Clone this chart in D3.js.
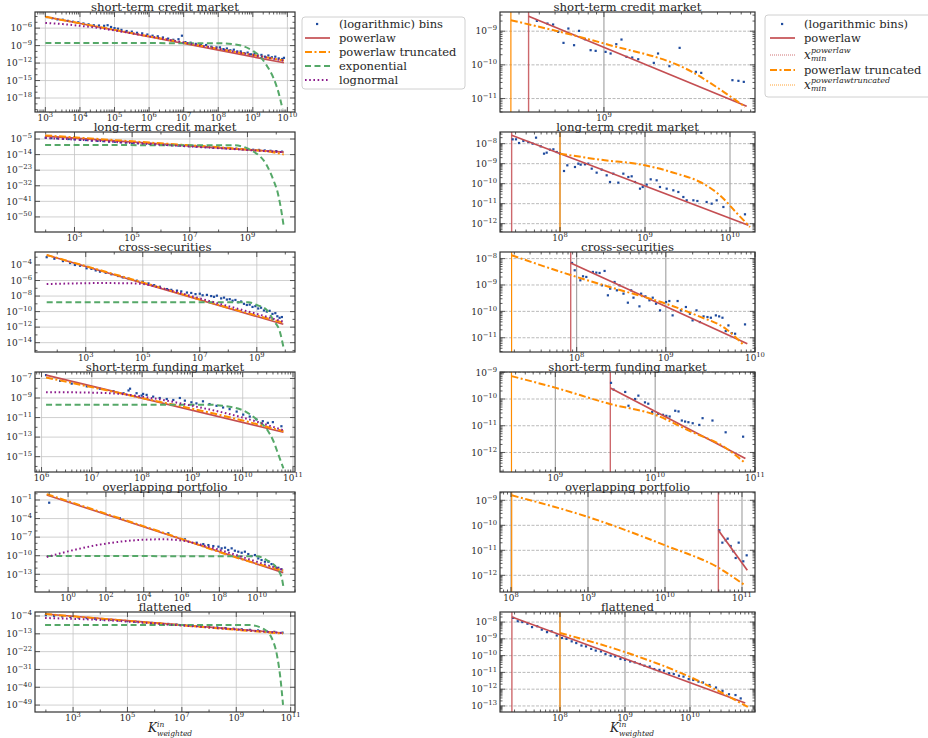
<!DOCTYPE html>
<html><head><meta charset="utf-8">
<script src="https://cdn.jsdelivr.net/npm/d3@7"></script>
<style>body{margin:0;background:#fff} svg text{font-family:"DejaVu Serif",serif;fill:#262626}</style>
</head><body><svg id="c" width="928" height="738"></svg>
<script>
// ---------- DATA (log10 values: [log10 x, log10 y]) ----------
const titles = ["short-term credit market","long-term credit market","cross-securities","short-term funding market","overlapping portfolio","flattened"];

// Left column: full distributions
const stcBins = [[3.05,-4.1],[3.2,-4.3],[3.35,-4.5],[3.5,-4.55],[3.65,-4.75],[3.8,-4.9],[3.95,-5.0],[4.1,-5.2],[4.25,-5.35],[4.4,-5.5],[4.55,-5.55],[4.7,-5.6],[4.8,-5.5],[4.9,-5.8],[5.0,-6.0],[5.1,-6.1],[5.2,-6.3],[5.35,-6.5],[5.5,-6.6],[5.65,-6.8],[5.8,-6.9],[5.95,-7.1],[6.1,-7.3],[6.25,-7.4],[6.4,-7.6],[6.55,-7.8],[6.7,-8.0],[6.85,-7.9],[6.95,-7.3],[7.05,-8.4],[7.2,-8.5],[7.35,-8.7],[7.5,-8.9],[7.65,-8.9],[7.8,-9.2],[7.95,-9.3],[8.05,-9.3],[8.15,-9.6],[8.25,-9.5],[8.35,-9.8],[8.45,-9.7],[8.55,-10.0],[8.65,-10.0],[8.75,-10.3],[8.85,-10.2],[8.95,-10.5],[9.05,-10.4],[9.15,-10.7],[9.25,-10.6],[9.35,-10.9],[9.45,-10.7],[9.55,-11.0],[9.65,-10.9],[9.75,-11.2],[9.85,-11.3],[9.9,-11.1]];
const stcPl = [[3.0,-4.05],[9.9,-11.95]];
const stcTpl = [[3.0,-4.05],[5,-6.3],[7,-8.5],[9.9,-11.55]];
const stcExp = [[3.0,-8.55],[8.0,-8.6],[8.5,-8.8],[9.0,-9.9],[9.2,-10.8],[9.4,-12.4],[9.6,-14.6],[9.75,-17.2],[9.86,-19.9]];
const stcLogn = [[3.0,-5.1],[3.5,-5.3],[4,-5.6],[4.5,-5.95],[5,-6.4],[6,-7.4],[7,-8.45],[8,-9.55],[9,-10.6],[9.9,-11.6]];

const ltcBins = [[2.0,-4.3],[2.2,-4.5],[2.4,-4.6],[2.6,-4.9],[2.8,-5.0],[3.0,-5.2],[3.2,-5.5],[3.4,-5.6],[3.6,-5.9],[3.8,-6.1],[4.0,-6.2],[4.2,-6.5],[4.4,-6.6],[4.6,-6.9],[4.8,-7.0],[5.0,-7.3],[5.2,-7.4],[5.4,-7.7],[5.6,-7.8],[5.8,-8.0],[6.0,-8.2],[6.2,-8.4],[6.4,-8.6],[6.6,-8.8],[6.8,-9.0],[7.0,-9.2],[7.2,-9.3],[7.4,-9.6],[7.6,-9.7],[7.8,-10.0],[8.0,-10.1],[8.2,-10.3],[8.4,-10.5],[8.6,-10.6],[8.8,-10.9],[9.0,-11.0],[9.2,-11.2],[9.4,-11.3],[9.6,-11.6],[9.8,-11.8],[10.0,-12.0],[10.2,-12.3]];
const ltcPl = [[1.98,-3.3],[10.26,-12.6]];
const ltcTpl = [[1.98,-2.9],[6,-7.5],[9,-11.1],[9.8,-12.4],[10.26,-13.9]];
const ltcExp = [[1.98,-8.5],[8.5,-8.6],[9.0,-10.4],[9.2,-12.2],[9.45,-15.2],[9.65,-19.5],[9.8,-24.6],[9.92,-29.5],[10.04,-35.3],[10.15,-44],[10.26,-55.6]];
const ltcLogn = [[1.98,-4.4],[3,-5.3],[5,-7.3],[8,-10.3],[10.26,-12.6]];

const csBins = [[1.63,-3.0],[1.9,-3.2],[2.2,-3.5],[2.45,-3.75],[2.62,-4.0],[2.8,-4.1],[3.03,-4.43],[3.2,-4.5],[3.35,-4.7],[3.5,-4.86],[3.7,-5.0],[3.9,-5.2],[4.14,-5.42],[4.3,-5.6],[4.5,-5.75],[4.79,-6.02],[5.0,-6.15],[5.2,-6.37],[5.4,-6.6],[5.6,-6.8],[5.85,-7.1],[6.0,-7.2],[6.2,-7.3],[6.35,-7.4],[6.55,-7.55],[6.7,-7.6],[6.85,-7.75],[7.0,-7.7],[7.1,-7.9],[7.25,-7.85],[7.4,-8.0],[7.5,-8.1],[7.6,-7.95],[7.75,-8.3],[7.85,-8.2],[7.95,-8.45],[8.05,-8.4],[8.15,-8.6],[8.25,-8.5],[8.35,-8.8],[8.45,-8.7],[8.55,-9.0],[8.65,-9.15],[8.75,-9.1],[8.85,-9.4],[8.95,-9.3],[9.05,-9.6],[9.15,-9.5],[9.25,-9.85],[9.35,-10.0],[9.45,-9.9],[9.55,-10.3],[9.65,-10.2],[9.72,-10.6],[9.8,-10.8],[9.88,-10.7]];
const csPl = [[1.63,-2.71],[9.93,-11.63]];
const csTpl = [[1.63,-2.71],[5,-6.25],[8,-9.5],[9.93,-11.42]];
const csExp = [[1.63,-8.8],[8.7,-8.8],[9.0,-9.15],[9.35,-9.8],[9.58,-11.1],[9.81,-12.6],[9.93,-14.5]];
const csLogn = [[1.63,-6.45],[2.5,-6.38],[3.5,-6.33],[4.5,-6.35],[5,-6.45],[6,-7.3],[7,-8.3],[8,-9.3],[9,-10.3],[9.93,-11.3]];

const stfBins = [[6.09,-6.66],[6.37,-7.25],[6.6,-7.53],[6.9,-7.81],[7.16,-8.05],[7.43,-8.3],[7.63,-8.51],[7.73,-8.23],[7.76,-8.05],[7.89,-8.51],[7.99,-8.75],[8.02,-8.58],[8.09,-8.68],[8.22,-8.86],[8.35,-9.0],[8.49,-9.1],[8.62,-9.2],[8.75,-9.0],[8.85,-9.27],[8.98,-9.44],[9.08,-9.55],[9.21,-9.34],[9.34,-9.62],[9.48,-9.8],[9.61,-9.97],[9.74,-10.14],[9.88,-10.39],[10.01,-10.7],[10.14,-10.9],[10.27,-11.19],[10.4,-11.37],[10.5,-11.54],[10.6,-11.47],[10.77,-11.89]];
const stfPl = [[6.09,-6.66],[10.81,-12.5]];
const stfTpl = [[6.09,-6.9],[8,-9.0],[10,-11.3],[10.81,-12.4]];
const stfExp = [[6.09,-9.68],[9.3,-9.68],[9.6,-9.8],[10.0,-10.25],[10.28,-11.2],[10.48,-12.2],[10.61,-13.4],[10.71,-14.8],[10.81,-16.2]];
const stfLogn = [[6.09,-8.4],[7,-8.45],[7.6,-8.6],[8.3,-9.1],[9,-9.8],[10,-11.0],[10.81,-12.3]];

const opBins = [[-1.0,-1.44],[2.74,-3.96],[5.3,-6.38],[6.18,-7.35],[6.8,-7.9],[7.15,-8.12],[7.42,-8.28],[7.68,-8.44],[7.95,-8.54],[8.12,-8.81],[8.3,-8.7],[8.47,-9.08],[8.65,-8.81],[8.82,-9.19],[9.0,-9.35],[9.18,-9.52],[9.35,-9.35],[9.53,-9.73],[9.7,-10.05],[9.88,-9.89],[10.06,-10.43],[10.23,-10.7],[10.41,-10.97],[10.59,-10.97],[10.76,-11.35],[10.94,-11.67],[11.12,-11.94],[11.29,-12.2]];
const opPl = [[-1.13,-0.19],[11.38,-12.74]];
const opTpl = [[-1.13,-0.05],[5,-6.25],[10,-11.3],[11.38,-12.4]];
const opExp = [[-1.13,-10.05],[10.0,-10.1],[10.5,-10.7],[11.03,-12.0],[11.3,-13.6],[11.38,-14.9]];
const opLogn = [[-1.13,-10.2],[0,-9.3],[1,-8.6],[2,-8.05],[3,-7.65],[4,-7.42],[5,-7.35],[6,-7.55],[7,-8.2],[8,-9.05],[9,-10.0],[10,-11.0],[11.38,-12.3]];

const flBins = [[2.0,-3.6],[2.3,-3.9],[2.6,-4.2],[2.9,-4.5],[3.2,-4.8],[3.5,-5.1],[3.8,-5.4],[4.1,-5.7],[4.4,-6.0],[4.7,-6.3],[5.0,-6.6],[5.3,-6.9],[5.6,-7.2],[5.9,-7.5],[6.2,-7.8],[6.5,-8.0],[6.8,-8.3],[7.1,-8.6],[7.4,-8.9],[7.7,-9.2],[8.0,-9.5],[8.3,-9.8],[8.6,-10.1],[8.9,-10.4],[9.2,-10.7],[9.5,-11.0],[9.8,-11.3],[10.1,-11.7],[10.4,-12.0],[10.7,-12.4]];
const flPl = [[1.97,-3.0],[10.72,-12.6]];
const flTpl = [[1.97,-3.0],[6,-7.6],[10.72,-12.9]];
const flExp = [[1.97,-8.5],[9.5,-8.6],[10.0,-10.5],[10.3,-15],[10.5,-24],[10.62,-35],[10.72,-48.9]];
const flLogn = [[1.97,-5.0],[4,-6.0],[7,-8.8],[10.72,-12.6]];

// Right column: tails above x_min
const stcTail = [[8.587,-8.693],[8.652,-8.772],[8.687,-8.802],[8.718,-9.02],[8.751,-9.347],[8.781,-8.921],[8.816,-9.416],[8.847,-8.99],[8.883,-9.238],[8.918,-9.564],[8.949,-9.584],[9.01,-9.614],[9.041,-9.663],[9.076,-9.386],[9.108,-9.248],[9.139,-9.762],[9.174,-9.782],[9.211,-9.832],[9.307,-9.941],[9.333,-9.663],[9.403,-10.04],[9.466,-9.495],[9.566,-10.208],[9.599,-10.238],[9.791,-10.455],[9.828,-10.475],[9.861,-10.505]];
const stcTailPl = [[8.536,-8.554],[9.879,-11.228]];
const stcTailTpl = [[8.427,-8.673],[9.0,-9.366],[9.542,-10.208],[9.746,-10.832],[9.869,-11.248]];
const stcXmin = [8.536, 8.427];

const ltcTail = [[7.443,-7.783],[7.482,-7.783],[7.518,-7.967],[7.569,-7.867],[7.627,-7.917],[7.678,-8.0],[7.718,-7.7],[7.773,-8.133],[7.812,-8.5],[7.843,-8.45],[7.882,-8.3],[7.922,-8.283],[7.961,-8.417],[8.0,-8.5],[8.047,-9.367],[8.086,-9.083],[8.176,-9.167],[8.216,-9.0],[8.243,-9.05],[8.294,-9.033],[8.333,-9.0],[8.373,-9.25],[8.431,-9.45],[8.49,-9.3],[8.549,-9.583],[8.588,-9.917],[8.627,-9.5],[8.686,-9.95],[8.745,-9.5],[8.804,-9.667],[8.843,-9.633],[8.882,-9.917],[8.941,-10.25],[8.973,-10.167],[9.02,-10.05],[9.067,-9.783],[9.137,-9.833],[9.176,-10.167],[9.255,-10.25],[9.333,-10.333],[9.392,-10.417],[9.451,-10.667],[9.49,-10.833],[9.569,-10.833],[9.616,-10.867],[9.725,-10.917],[9.784,-11.0],[9.843,-10.833],[9.922,-11.167],[10.176,-11.533]];
const ltcTailPl = [[7.431,-7.583],[10.216,-12.083]];
const ltcTailTpl = [[8.0,-8.5],[8.471,-8.8],[9.0,-9.083],[9.373,-9.5],[9.647,-9.917],[9.882,-10.583],[10.078,-11.467],[10.235,-12.167]];
const ltcXmin = [7.431, 8.0];

const csTail = [[7.948,-8.165],[7.978,-8.443],[8.041,-8.823],[8.071,-8.671],[8.108,-8.696],[8.182,-8.506],[8.22,-8.532],[8.257,-8.544],[8.283,-9.013],[8.313,-8.468],[8.35,-9.392],[8.376,-9.139],[8.425,-8.886],[8.451,-9.203],[8.48,-9.013],[8.525,-9.329],[8.574,-9.671],[8.611,-9.203],[8.637,-9.481],[8.704,-9.81],[8.723,-9.329],[8.771,-9.43],[8.816,-9.582],[8.853,-9.481],[8.89,-9.709],[8.935,-9.962],[9.002,-9.646],[9.039,-9.608],[9.076,-10.152],[9.132,-9.608],[9.169,-9.962],[9.225,-9.835],[9.27,-10.089],[9.3,-10.342],[9.344,-9.962],[9.382,-10.405],[9.423,-10.19],[9.467,-10.215],[9.505,-10.241],[9.561,-10.152],[9.598,-10.19],[9.635,-10.241],[9.672,-10.747],[9.702,-10.532],[9.739,-10.823],[9.777,-10.848],[9.888,-10.494]];
const csTailPl = [[7.933,-8.165],[9.914,-11.228]];
const csTailTpl = [[7.27,-7.873],[7.94,-8.633],[8.369,-9.076],[9.0,-9.709],[9.374,-10.19],[9.672,-10.658],[9.877,-11.291]];
const csXmin = [7.933, 7.27];

const stfTail = [[9.558,-9.396],[9.584,-9.648],[9.7,-9.736],[9.733,-10.252],[9.799,-10.0],[9.832,-9.874],[9.898,-10.126],[9.931,-10.176],[9.97,-10.491],[10.03,-10.553],[10.079,-10.591],[10.112,-10.629],[10.145,-10.654],[10.201,-10.44],[10.234,-10.465],[10.267,-10.805],[10.3,-10.843],[10.333,-10.868],[10.376,-10.906],[10.442,-10.969],[10.475,-10.717],[10.574,-10.805],[10.706,-11.245],[10.881,-11.409]];
const stfTailPl = [[9.551,-9.585],[10.904,-12.226]];
const stfTailTpl = [[8.561,-9.145],[9.007,-9.585],[9.551,-10.189],[10.0,-10.591],[10.36,-11.22],[10.69,-11.786],[10.888,-12.352]];
const stfXmin = [9.551, 8.561];

const opTail = [[10.706,-10.2],[10.745,-10.693],[10.788,-10.6],[10.814,-10.533],[10.853,-10.827],[10.887,-11.04],[10.918,-11.307],[10.957,-10.693],[11.017,-11.44],[11.061,-11.2]];
const opTailPl = [[10.693,-10.2],[11.069,-11.8]];
const opTailTpl = [[8.009,-8.8],[9.0,-9.667],[10.0,-10.8],[10.693,-11.693],[11.039,-12.4]];
const opXmin = [10.693, 8.009];

const flTail = [[7.28,-7.75],[7.35,-7.95],[7.42,-8.0],[7.5,-8.1],[7.57,-8.3],[7.65,-8.25],[7.72,-8.45],[7.8,-8.6],[7.87,-8.55],[7.95,-8.8],[8.03,-8.95],[8.1,-9.0],[8.18,-9.15],[8.25,-9.25],[8.33,-9.4],[8.4,-9.45],[8.48,-9.6],[8.55,-9.7],[8.63,-9.75],[8.7,-9.9],[8.78,-10.0],[8.85,-10.05],[8.93,-10.2],[9.0,-10.25],[9.08,-10.35],[9.15,-10.4],[9.23,-10.5],[9.3,-10.6],[9.38,-10.65],[9.45,-10.8],[9.53,-10.85],[9.6,-10.9],[9.68,-11.05],[9.75,-11.1],[9.83,-11.2],[9.9,-11.25],[9.98,-11.4],[10.05,-11.45],[10.13,-11.55],[10.2,-11.6],[10.3,-11.75],[10.4,-11.9],[10.5,-12.1],[10.6,-12.3],[10.7,-12.35],[10.78,-12.55]];
const flTailPl = [[7.26,-7.70],[10.85,-12.82]];
const flTailTpl = [[8.0,-8.65],[9.0,-9.79],[10.0,-11.27],[10.89,-13.06]];
const flXmin = [7.26, 8.0];

// tick label exponents
const leftXTicks = [[3,4,5,6,7,8,9,10],[3,5,7,9],[3,5,7,9],[6,7,8,9,10,11],[0,2,4,6,8,10],[3,5,7,9,11]];
const leftYTicks = [[-6,-9,-12,-15,-18],[-5,-14,-23,-32,-41,-50],[-4,-6,-8,-10,-12,-14],[-7,-9,-11,-13,-15],[-1,-4,-7,-10,-13],[-4,-13,-22,-31,-40,-49]];
const rightXTicks = [[9],[8,9,10],[8,9,10],[9,10,11],[8,9,10,11],[8,9,10]];
const rightYTicks = [[-9,-10,-11],[-8,-9,-10,-11,-12],[-8,-9,-10,-11],[-9,-10,-11,-12],[-9,-10,-11,-12],[-8,-9,-10,-11,-12,-13]];

const legendLeft = ["(logarithmic) bins","powerlaw","powerlaw truncated","exponential","lognormal"];
const legendRight = ["(logarithmic bins)","powerlaw","x_min^powerlaw","powerlaw truncated","x_min^powerlawtruncated"];

// ---------- LAYOUT / STYLE ----------
const C = {pts:"#1f4b9e", pl:"#c44e52", tpl:"#ff8c00", exp:"#55a868", logn:"#8b1a8b"};
const svg = d3.select("#c");
const LX=[35,295], RX=[500,755];
const rowTop = i => 12 + 120*i, RH = 100;

const leftPanels = [
 {bins:stcBins,pl:stcPl,tpl:stcTpl,exp:stcExp,logn:stcLogn,xd:[2.70,10.22],yd:[-20.4,-3.23],xminor:true,yminor:1},
 {bins:ltcBins,pl:ltcPl,tpl:ltcTpl,exp:ltcExp,logn:ltcLogn,xd:[1.63,10.65],yd:[-58.7,-0.95],xminor:false,yminor:0},
 {bins:csBins,pl:csPl,tpl:csTpl,exp:csExp,logn:csLogn,xd:[1.22,10.34],yd:[-15.2,-2.33],xminor:false,yminor:1},
 {bins:stfBins,pl:stfPl,tpl:stfTpl,exp:stfExp,logn:stfLogn,xd:[5.87,11.04],yd:[-16.57,-6.34],xminor:true,yminor:1},
 {bins:opBins,pl:opPl,tpl:opTpl,exp:opExp,logn:opLogn,xd:[-1.75,12.0],yd:[-15.86,0.29],xminor:false,yminor:1},
 {bins:flBins,pl:flPl,tpl:flTpl,exp:flExp,logn:flLogn,xd:[1.6,11.16],yd:[-52.5,-1.98],xminor:false,yminor:0}
];
const rightPanels = [
 {bins:stcTail,pl:stcTailPl,tpl:stcTailTpl,xmin:stcXmin,xd:[8.36,9.93],yd:[-11.40,-8.43]},
 {bins:ltcTail,pl:ltcTailPl,tpl:ltcTailTpl,xmin:ltcXmin,xd:[7.294,10.294],yd:[-12.417,-7.417]},
 {bins:csTail,pl:csTailPl,tpl:csTailTpl,xmin:csXmin,xd:[7.14,10.0],yd:[-11.54,-7.75]},
 {bins:stfTail,pl:stfTailPl,tpl:stfTailTpl,xmin:stfXmin,xd:[8.446,11.0],yd:[-12.73,-8.99]},
 {bins:opTail,pl:opTailPl,tpl:opTailTpl,xmin:opXmin,xd:[7.857,11.169],yd:[-12.667,-8.667]},
 {bins:flTail,pl:flTailPl,tpl:flTailTpl,xmin:flXmin,xd:[7.077,11.0],yd:[-13.36,-7.40]}
];

function pow(e){return Math.pow(10,e);}
function supLabel(t, e){
  t.text(null);
  t.append("tspan").text("10");
  t.append("tspan").attr("dy",-4).attr("font-size",6.8).text(e<0?"\u2212"+(-e):String(e));
}

function panel(p, col, row, isRight){
  const x0=col?RX[0]:LX[0], x1=col?RX[1]:LX[1];
  const y0=rowTop(row), y1=y0+RH;
  const xs=d3.scaleLog().domain(p.xd.map(pow)).range([x0,x1]);
  const ys=d3.scaleLog().domain(p.yd.map(pow)).range([y1,y0]);
  const g=svg.append("g");
  const cid="clip"+col+"_"+row;
  svg.append("clipPath").attr("id",cid).append("rect").attr("x",x0).attr("y",y0).attr("width",x1-x0).attr("height",y1-y0);

  const xt = isRight? rightXTicks[row] : leftXTicks[row];
  const yt = isRight? rightYTicks[row] : leftYTicks[row];
  const grid=g.append("g");
  grid.selectAll(".gx").data(xt).join("line").attr("x1",d=>xs(pow(d))).attr("x2",d=>xs(pow(d))).attr("y1",y0).attr("y2",y1)
    .attr("stroke",isRight?"#7a7a7a":"#c4c4c4").attr("stroke-width",0.8);
  grid.selectAll(".gy").data(yt).join("line").attr("y1",d=>ys(pow(d))).attr("y2",d=>ys(pow(d))).attr("x1",x0).attr("x2",x1)
    .attr("stroke",isRight?"#a8a8a8":"#c4c4c4").attr("stroke-width",0.8).attr("stroke-dasharray",isRight?"3,1.5":null);

  const pg=g.append("g").attr("clip-path","url(#"+cid+")");
  const line=d3.line().x(d=>xs(pow(d[0]))).y(d=>ys(pow(d[1])));
  if(isRight){
    pg.append("line").attr("x1",xs(pow(p.xmin[1]))).attr("x2",xs(pow(p.xmin[1]))).attr("y1",y0).attr("y2",y1)
      .attr("stroke",C.tpl).attr("stroke-width",1.2);
    pg.append("line").attr("x1",xs(pow(p.xmin[0]))).attr("x2",xs(pow(p.xmin[0]))).attr("y1",y0).attr("y2",y1)
      .attr("stroke",C.pl).attr("stroke-width",1.4).attr("stroke-opacity",0.85);
  }
  pg.selectAll("rect.pt").data(p.bins).join("rect").attr("class","pt")
    .attr("x",d=>xs(pow(d[0]))-1.1).attr("y",d=>ys(pow(d[1]))-1.1).attr("width",2.2).attr("height",2.2).attr("fill",C.pts);
  pg.append("path").attr("d",line(p.pl)).attr("fill","none").attr("stroke",C.pl).attr("stroke-width",1.7);
  pg.append("path").attr("d",line.curve(d3.curveMonotoneX)(p.tpl)).attr("fill","none").attr("stroke",C.tpl).attr("stroke-width",2).attr("stroke-dasharray","7,2.5,2,2.5");
  if(!isRight){
    pg.append("path").attr("d",line.curve(d3.curveMonotoneX)(p.exp)).attr("fill","none").attr("stroke",C.exp).attr("stroke-width",2).attr("stroke-dasharray","6,3.5");
    pg.append("path").attr("d",line.curve(d3.curveMonotoneX)(p.logn)).attr("fill","none").attr("stroke",C.logn).attr("stroke-width",2).attr("stroke-dasharray","1.6,2.6");
  }

  const tk=g.append("g").attr("stroke","#333").attr("stroke-width",0.8);
  const xMinor=[], yMinor=[];
  const pxPerDecY=(y1-y0)/(p.yd[1]-p.yd[0]);
  const xm = isRight || p.xminor;
  for(let e=Math.floor(p.xd[0]); e<=p.xd[1]; e++){
    if(xm) for(let k=2;k<10;k++){const v=Math.log10(k)+e; if(v>p.xd[0]&&v<p.xd[1]) xMinor.push(v);}
    if(!xt.includes(e) && e>=p.xd[0] && e<=p.xd[1]) xMinor.push(e);
  }
  for(let e=Math.floor(p.yd[0]); e<=p.yd[1]; e++){
    if(isRight) for(let k=2;k<10;k++){const v=Math.log10(k)+e; if(v>p.yd[0]&&v<p.yd[1]) yMinor.push(v);}
    if(!yt.includes(e) && e>=p.yd[0] && e<=p.yd[1] && (isRight || (p.yminor && pxPerDecY>=4))) yMinor.push(e);
  }
  const T=5, t=2.5;
  xt.forEach(e=>{const X=xs(pow(e)); tk.append("line").attr("x1",X).attr("x2",X).attr("y1",y1).attr("y2",y1-T); tk.append("line").attr("x1",X).attr("x2",X).attr("y1",y0).attr("y2",y0+T);});
  xMinor.forEach(e=>{const X=xs(pow(e)); tk.append("line").attr("x1",X).attr("x2",X).attr("y1",y1).attr("y2",y1-t); tk.append("line").attr("x1",X).attr("x2",X).attr("y1",y0).attr("y2",y0+t);});
  yt.forEach(e=>{const Y=ys(pow(e)); tk.append("line").attr("y1",Y).attr("y2",Y).attr("x1",x0).attr("x2",x0+T); tk.append("line").attr("y1",Y).attr("y2",Y).attr("x1",x1).attr("x2",x1-T);});
  yMinor.forEach(e=>{const Y=ys(pow(e)); tk.append("line").attr("y1",Y).attr("y2",Y).attr("x1",x0).attr("x2",x0+t); tk.append("line").attr("y1",Y).attr("y2",Y).attr("x1",x1).attr("x2",x1-t);});

  g.append("rect").attr("x",x0).attr("y",y0).attr("width",x1-x0).attr("height",y1-y0).attr("fill","none").attr("stroke","#333").attr("stroke-width",1.2);

  g.selectAll(".xl").data(xt).join("text").attr("x",d=>xs(pow(d))).attr("y",y1+8.5).attr("text-anchor","middle").attr("font-size",8.8)
    .each(function(d){supLabel(d3.select(this),d);});
  g.selectAll(".yl").data(yt).join("text").attr("x",x0-3).attr("y",d=>ys(pow(d))+3.3).attr("text-anchor","end").attr("font-size",9)
    .each(function(d){supLabel(d3.select(this),d);});
  g.append("text").attr("x",(x0+x1)/2).attr("y",y0-1).attr("text-anchor","middle").attr("font-size",11.7).text(titles[row]);
}

leftPanels.forEach((p,i)=>panel(p,0,i,false));
rightPanels.forEach((p,i)=>panel(p,1,i,true));

// x labels
[165,627].forEach(cx=>{
  svg.append("text").attr("x",cx-17).attr("y",732).attr("font-size",12).attr("font-style","italic").text("K");
  svg.append("text").attr("x",cx-8).attr("y",727).attr("font-size",7.5).attr("font-style","italic").text("in");
  svg.append("text").attr("x",cx-8).attr("y",736).attr("font-size",7.5).attr("font-style","italic").text("weighted");
});

// legends
function legendSym(g, kind, x, y){
  if(kind==="pts"){g.append("rect").attr("x",x+11).attr("y",y-1.1).attr("width",2.2).attr("height",2.2).attr("fill",C.pts);return;}
  const st={pl:[C.pl,1.7,null],tpl:[C.tpl,2,"7,2.5,2,2.5"],exp:[C.exp,2,"6,3.5"],logn:[C.logn,2,"1.6,2.6"],xpl:[C.pl,0.8,"1,1"],xtpl:[C.tpl,0.8,"1,1"]}[kind];
  g.append("line").attr("x1",x).attr("x2",x+25).attr("y1",y).attr("y2",y).attr("stroke",st[0]).attr("stroke-width",st[1]).attr("stroke-dasharray",st[2]);
}
const lg=svg.append("g");
lg.append("rect").attr("x",302).attr("y",17).attr("width",163).attr("height",72).attr("rx",3).attr("fill","#fff").attr("stroke","#d0d0d0");
const lk=["pts","pl","tpl","exp","logn"];
legendLeft.forEach((s,i)=>{const y=24+14*i; legendSym(lg,lk[i],305,y); lg.append("text").attr("x",339).attr("y",y+4).attr("font-size",11.5).text(s);});

const rg=svg.append("g");
rg.append("rect").attr("x",765).attr("y",15).attr("width",170).attr("height",82).attr("rx",3).attr("fill","#fff").attr("stroke","#d0d0d0");
const rk=["pts","pl","xpl","tpl","xtpl"], ry=[24,38,55,70,85];
legendRight.forEach((s,i)=>{
  const y=ry[i]; legendSym(rg,rk[i],770,y);
  if(s.startsWith("x_min")){
    const sup=s.split("^")[1];
    rg.append("text").attr("x",804).attr("y",y+4).attr("font-size",12).attr("font-style","italic").text("x");
    rg.append("text").attr("x",811).attr("y",y-2).attr("font-size",8).attr("font-style","italic").text(sup);
    rg.append("text").attr("x",811).attr("y",y+6).attr("font-size",8).attr("font-style","italic").text("min");
  } else rg.append("text").attr("x",804).attr("y",y+4).attr("font-size",11.5).text(s);
});
</script></body></html>
